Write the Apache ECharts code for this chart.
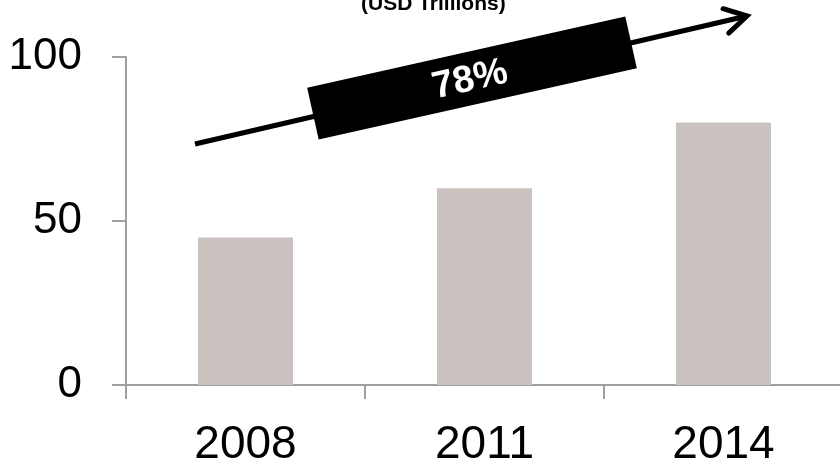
<!DOCTYPE html>
<html>
<head>
<meta charset="utf-8">
<script src="https://cdn.jsdelivr.net/npm/echarts@6/dist/echarts.min.js"></script>
<style>
  html, body { margin: 0; padding: 0; background: #fff; }
  #chart { width: 840px; height: 464px; }
</style>
</head>
<body>
<div id="chart"></div>
<script>
// data
const years = ['2008', '2011', '2014']
const values = [45, 60, 80]
const unitTitle = '(USD Trillions)'
const growthLabel = '78%'

const FONT = '"Liberation Sans", Arial, sans-serif'
const axisGrey = '#a0a0a0'

const chart = echarts.init(document.getElementById('chart'))

// arrow annotation (pixels)
const arrowStart = [195, 144]
const arrowTip = [747, 16]
const ang = Math.atan2(arrowTip[1] - arrowStart[1], arrowTip[0] - arrowStart[0])
const armLen = 25
const armSpread = 30 * Math.PI / 180
const arm = function (sign) {
  const a = ang + Math.PI + sign * armSpread
  return [arrowTip[0] + armLen * Math.cos(a), arrowTip[1] + armLen * Math.sin(a)]
}
const boxRot = 12.6 * Math.PI / 180

const option = {
  animation: false,
  title: {
    text: unitTitle,
    left: 356,
    top: -11,
    textStyle: { fontSize: 21, fontWeight: 'bold', color: '#000', fontFamily: FONT }
  },
  grid: { left: 126, right: -3, top: 57, bottom: 79, containLabel: false, outerBoundsMode: 'none' },
  xAxis: {
    type: 'category',
    data: years,
    boundaryGap: true,
    axisLine: { lineStyle: { color: axisGrey, width: 2 } },
    axisTick: { show: true, length: 14, lineStyle: { color: axisGrey, width: 2 } },
    axisLabel: { color: '#000', fontSize: 46, fontFamily: FONT, margin: 37 }
  },
  yAxis: {
    type: 'value',
    min: 0,
    max: 100,
    interval: 50,
    splitLine: { show: false },
    axisLine: { show: true, lineStyle: { color: axisGrey, width: 2 } },
    axisTick: { show: true, length: 14, lineStyle: { color: axisGrey, width: 2 } },
    axisLabel: { color: '#000', fontSize: 44, fontFamily: FONT, margin: 44 }
  },
  series: [
    {
      type: 'bar',
      data: values,
      barWidth: 95,
      itemStyle: { color: '#c9c2be' }
    }
  ],
  graphic: [
    {
      type: 'polyline',
      shape: { points: [arrowStart, arrowTip] },
      style: { stroke: '#000', lineWidth: 5 },
      z: 10
    },
    {
      type: 'polyline',
      shape: { points: [arm(1), arrowTip, arm(-1)] },
      style: { stroke: '#000', lineWidth: 5, lineCap: 'round', lineJoin: 'miter', fill: null },
      z: 10
    },
    {
      type: 'rect',
      x: 472,
      y: 78,
      rotation: boxRot,
      shape: { x: -163, y: -26.5, width: 326, height: 53 },
      style: { fill: '#000' },
      z: 11
    },
    {
      type: 'text',
      x: 470,
      y: 80,
      rotation: boxRot,
      style: {
        text: growthLabel,
        fill: '#fff',
        font: 'bold 38px ' + FONT,
        align: 'center',
        verticalAlign: 'middle'
      },
      z: 12
    }
  ]
}

chart.setOption(option)
</script>
</body>
</html>
